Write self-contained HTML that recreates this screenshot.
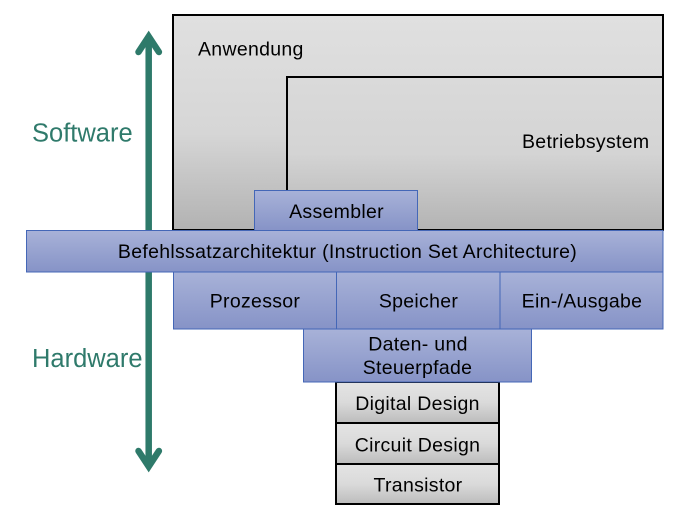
<!DOCTYPE html>
<html>
<head>
<meta charset="utf-8">
<style>
  html, body { margin: 0; padding: 0; background: #ffffff; }
  body { width: 694px; height: 515px; overflow: hidden; }
  svg { display: block; }
  text { font-family: "Liberation Sans", "DejaVu Sans", sans-serif; font-size: 19.5px; letter-spacing: 0.3px; fill: #000; }
  .side { font-size: 25.5px; fill: #2f7a6b; letter-spacing: 0; }
</style>
</head>
<body>
<svg width="694" height="515" viewBox="0 0 694 515" xmlns="http://www.w3.org/2000/svg">
  <defs>
    <linearGradient id="grayBig" x1="0" y1="0" x2="0" y2="1">
      <stop offset="0" stop-color="#e0e0e0"/>
      <stop offset="0.55" stop-color="#d6d6d6"/>
      <stop offset="1" stop-color="#b2b2b2"/>
    </linearGradient>
    <linearGradient id="grayInner" x1="0" y1="0" x2="0" y2="1">
      <stop offset="0" stop-color="#dadada"/>
      <stop offset="0.5" stop-color="#d4d4d4"/>
      <stop offset="1" stop-color="#b3b3b3"/>
    </linearGradient>
    <linearGradient id="graySmall" x1="0" y1="0" x2="0" y2="1">
      <stop offset="0" stop-color="#e4e4e4"/>
      <stop offset="0.5" stop-color="#dadada"/>
      <stop offset="1" stop-color="#bcbcbc"/>
    </linearGradient>
    <linearGradient id="blue" x1="0" y1="0" x2="0" y2="1">
      <stop offset="0" stop-color="#a8b2d8"/>
      <stop offset="1" stop-color="#8693c7"/>
    </linearGradient>
  </defs>

  <!-- Arrow -->
  <g stroke="#2e7a6a" fill="none" stroke-width="6.5">
    <line x1="148.7" y1="38" x2="148.7" y2="464"/>
    <polyline points="138.5,52 148.7,36.5 158.9,52" stroke-linejoin="miter" stroke-linecap="round" stroke-miterlimit="10"/>
    <polyline points="138.5,451 148.7,466.5 158.9,451" stroke-linejoin="miter" stroke-linecap="round" stroke-miterlimit="10"/>
  </g>

  <text class="side" x="32" y="141.5">Software</text>
  <text class="side" x="32" y="367">Hardware</text>

  <!-- Anwendung -->
  <rect x="173" y="15" width="490" height="215" fill="url(#grayBig)" stroke="#000" stroke-width="2"/>
  <text x="198" y="55.5">Anwendung</text>

  <!-- Betriebsystem -->
  <rect x="287" y="77" width="376" height="153" fill="url(#grayInner)" stroke="#000" stroke-width="2"/>
  <text x="522" y="148">Betriebsystem</text>

  <!-- Assembler -->
  <rect x="254.5" y="190.5" width="163" height="40" fill="url(#blue)" stroke="#4467b7" stroke-width="1"/>
  <text x="336.5" y="218" text-anchor="middle">Assembler</text>

  <!-- ISA -->
  <rect x="26.5" y="230.5" width="636.5" height="41.5" fill="url(#blue)" stroke="#4467b7" stroke-width="1"/>
  <text x="347.5" y="258" text-anchor="middle">Befehlssatzarchitektur (Instruction Set Architecture)</text>

  <!-- Hardware row -->
  <rect x="173.5" y="272" width="163" height="57" fill="url(#blue)" stroke="#4467b7" stroke-width="1"/>
  <rect x="336.5" y="272" width="163.5" height="57" fill="url(#blue)" stroke="#4467b7" stroke-width="1"/>
  <rect x="500" y="272" width="163" height="57" fill="url(#blue)" stroke="#4467b7" stroke-width="1"/>
  <text x="255" y="307.5" text-anchor="middle">Prozessor</text>
  <text x="418.5" y="307.5" text-anchor="middle">Speicher</text>
  <text x="582" y="307.5" text-anchor="middle">Ein-/Ausgabe</text>

  <!-- Gray small stack -->
  <rect x="336" y="382" width="163" height="41" fill="url(#graySmall)" stroke="#000" stroke-width="2"/>
  <rect x="336" y="423" width="163" height="41" fill="url(#graySmall)" stroke="#000" stroke-width="2"/>
  <rect x="336" y="464" width="163" height="40" fill="url(#graySmall)" stroke="#000" stroke-width="2"/>
  <text x="417.5" y="410" text-anchor="middle">Digital Design</text>
  <text x="417.5" y="451.5" text-anchor="middle">Circuit Design</text>
  <text x="418" y="491.5" text-anchor="middle">Transistor</text>

  <!-- Daten- und Steuerpfade -->
  <rect x="303.5" y="329" width="228" height="53" fill="url(#blue)" stroke="#4467b7" stroke-width="1"/>
  <text x="418" y="350.5" text-anchor="middle">Daten- und</text>
  <text x="417.5" y="374" text-anchor="middle">Steuerpfade</text>
</svg>
</body>
</html>
